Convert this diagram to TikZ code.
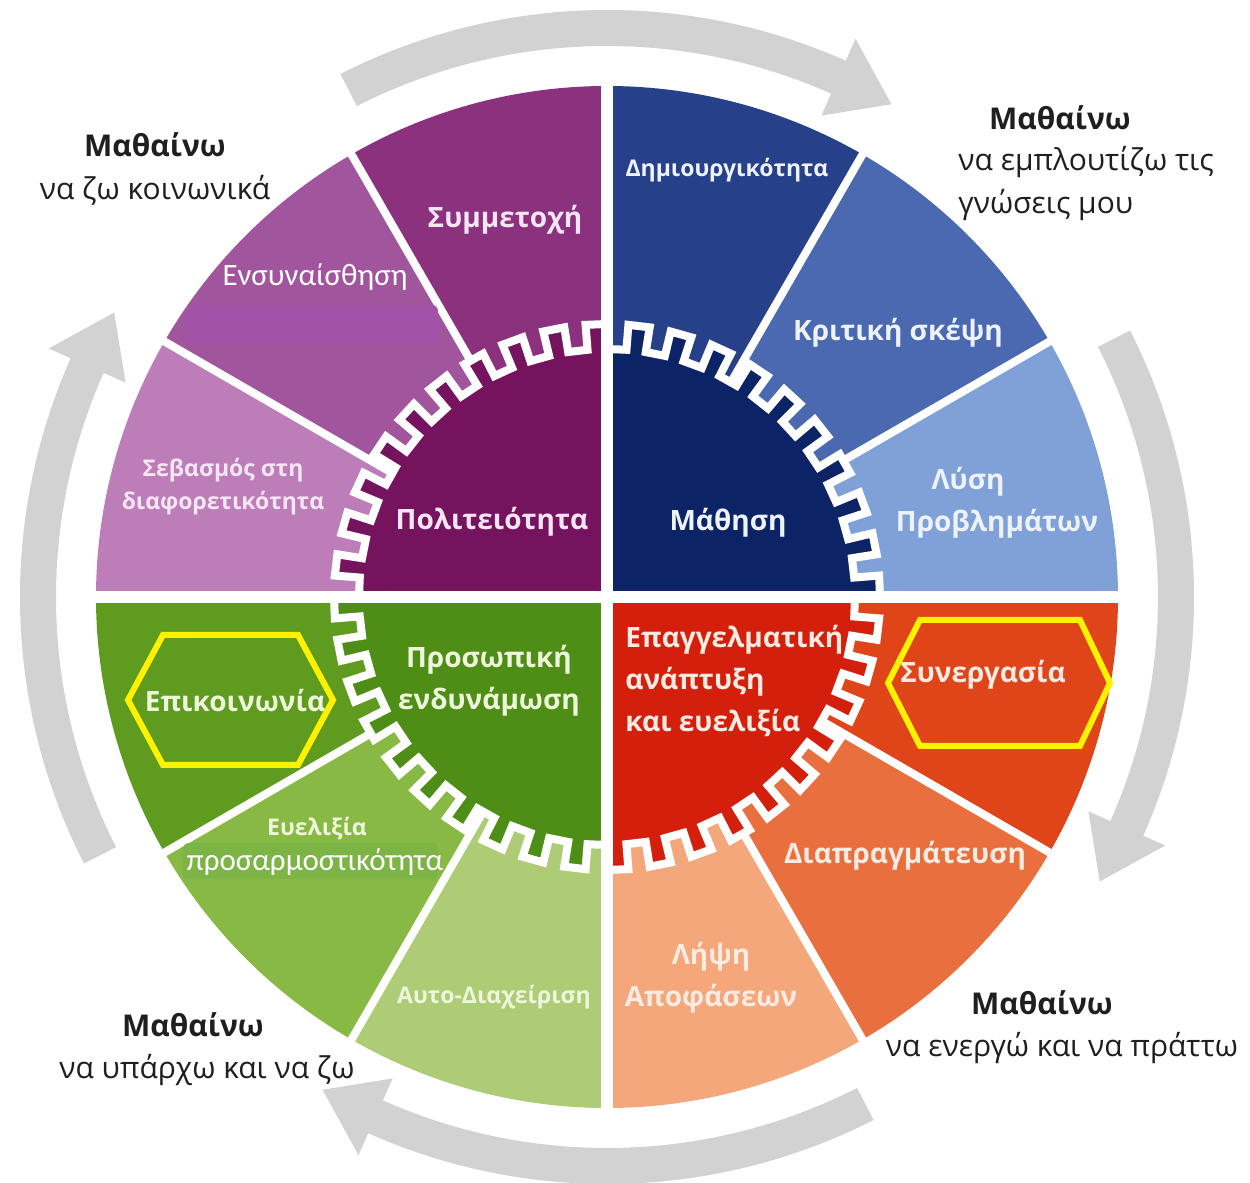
\documentclass[tikz,border=0pt]{standalone}
\usepackage{fontspec}
\setmainfont{Open Sans}
\newfontfamily\calibfont{Carlito}

% colours of the twelve sectors and four gear quarters
\definecolor{symmcol}{HTML}{8C317E}
\definecolor{ensyncol}{HTML}{A0559D}
\definecolor{sevcol}{HTML}{BD7DB9}
\definecolor{politcol}{HTML}{76135E}
\definecolor{dimcol}{HTML}{27408A}
\definecolor{kritcol}{HTML}{4A69B0}
\definecolor{lysicol}{HTML}{7FA1D7}
\definecolor{mathcol}{HTML}{0C2466}
\definecolor{epikcol}{HTML}{5F9B1F}
\definecolor{evelcol}{HTML}{88B944}
\definecolor{autocol}{HTML}{ADCC75}
\definecolor{prosocol}{HTML}{4F8E16}
\definecolor{lipsicol}{HTML}{F3A77A}
\definecolor{diapcol}{HTML}{E9703E}
\definecolor{synergcol}{HTML}{E04419}
\definecolor{epagcol}{HTML}{D31F0C}
\definecolor{arrowgray}{HTML}{D2D2D2}
\definecolor{hexyellow}{HTML}{FFF200}
\definecolor{patchpurple}{HTML}{A352AA}
\definecolor{patchgreen}{HTML}{7DB446}
\definecolor{purpletext}{HTML}{F6E6F4}
\definecolor{bluetext}{HTML}{EEF2FA}
\definecolor{greentext}{HTML}{EEF6DC}
\definecolor{redtext}{HTML}{FCEBE2}

\tikzstyle{seclabel}=[font=\bfseries\fontsize{14}{21}\selectfont,align=center,inner sep=0pt]
\tikzstyle{smalllabel}=[font=\bfseries\fontsize{11.5}{16.5}\selectfont,align=center,inner sep=0pt]
\tikzstyle{outlabel}=[font=\fontsize{15}{21.5}\selectfont,text=black!88,inner sep=0pt]
\tikzstyle{patchlabel}=[font=\calibfont\fontsize{15.5}{17}\selectfont,text=white,inner sep=0pt]
\tikzstyle{hexa}=[draw=hexyellow,line width=3pt,line join=miter]
\tikzstyle{gap} = [draw=white,line width=4pt]

\newcommand{\gearpath}{(0:248) \foreach \g in {0,...,39}{ -- ({\g*9}:248) -- ({\g*9}:273) -- ({\g*9+4.5}:273) -- ({\g*9+4.5}:248)} -- cycle}

\begin{document}
\begin{tikzpicture}[x=0.5pt,y=0.5pt]
    \fill[white] (-607,-586) rectangle (643,597);
    \useasboundingbox (-607,-586) rectangle (643,597);
    % grey arrows round the wheel
    \foreach \t [evaluate=\t as \ta using \t+57, evaluate=\t as \tb using \t+6] in {60,-30,-120,150}
        \fill[arrowgray] (\ta:551) arc[start angle=\ta, end angle=\tb, radius=551] -- (\tb:527) -- (\t:569)
            -- (\tb:611) -- (\tb:587) arc[start angle=\tb, end angle=\ta, radius=587] -- cycle;
    % outer sectors
    \foreach \a/\col in {0/lysicol, 30/kritcol, 60/dimcol, 90/symmcol, 120/ensyncol, 150/sevcol,
                         180/epikcol, 210/evelcol, 240/autocol, 270/lipsicol, 300/diapcol, 330/synergcol}
        \fill[\col] (0,0) -- (\a:511) arc[start angle=\a, delta angle=30, radius=511] -- cycle;
    \foreach \a in {30,60,120,150,210,240,300,330}
        \path[gap] (0,0) -- (\a:516);
    % gear in the middle, one colour per quarter
    \foreach \a/\col in {0/mathcol, 90/politcol, 180/prosocol, 270/epagcol} {
        \begin{scope}
            \clip (0,0) -- (\a:300) arc[start angle=\a, delta angle=90, radius=300] -- cycle;
            \fill[\col] \gearpath;
        \end{scope}
    }
    \draw[white,line width=4pt,line join=miter] \gearpath;
    \draw[white,line width=6pt] (-516,0) -- (516,0);
    \draw[white,line width=6pt] (0,-516) -- (0,516);

    % labels of the sectors
    \node[seclabel,text=purpletext] (symm) at (-102,377) {Συμμετοχή};
    \fill[patchpurple,rounded corners=3pt] (-420,292) rectangle (-169,255);
    \node[patchlabel] (ensyn) at (-292,320) {Ενσυναίσθηση};
    \node[smalllabel,text=purpletext] (sev) at (-384,110) {Σεβασμός στη\\διαφορετικότητα};
    \node[seclabel,text=purpletext] (polit) at (-115,75) {Πολιτειότητα};
    \node[smalllabel,text=bluetext] (dim) at (120,427) {Δημιουργικότητα};
    \node[seclabel,text=bluetext] (krit) at (291,264) {Κριτική σκέψη};
    \node[seclabel,text=bluetext] (lysi) at (361,115) {Λύση};
    \node[seclabel,text=bluetext] (problem) at (390,73) {Προβλημάτων};
    \node[seclabel,text=bluetext] (mathisi) at (121,74) {Μάθηση};
    \node[seclabel,text=greentext] (proso) at (-118,-84) {Προσωπική\\ενδυνάμωση};
    \node[seclabel,text=redtext,align=left,anchor=west] (epag) at (18,-84) {Επαγγελματική\\ανάπτυξη\\και ευελιξία};
    \node[seclabel,text=redtext] (synerg) at (376,-78) {Συνεργασία};
    \node[seclabel,text=greentext] (epik) at (-372,-103) {Επικοινωνία};
    \node[smalllabel,text=greentext] (evel) at (-290,-231) {Ευελιξία};
    \fill[patchgreen,rounded corners=3pt] (-424,-246) rectangle (-169,-282);
    \node[patchlabel] (prosarm) at (-292,-265) {προσαρμοστικότητα};
    \node[seclabel,text=redtext] (diap) at (298,-259) {Διαπραγμάτευση};
    \node[seclabel,text=redtext] (lipsi) at (104,-381) {Λήψη\\Αποφάσεων};
    \node[smalllabel,text=greentext] (auto) at (-113,-400) {Αυτο-Διαχείριση};

    % the four ways of learning
    \node[outlabel,align=center] (socially) at (-452,428) {\textbf{Μαθαίνω}\\να ζω κοινωνικά};
    \node[outlabel,font=\bfseries\fontsize{15}{21.5}\selectfont] (enrichhead) at (453,479) {Μαθαίνω};
    \node[outlabel,align=left,anchor=west] (enrich) at (351,413) {να εμπλουτίζω τις\\γνώσεις μου};
    \node[outlabel,font=\bfseries\fontsize{15}{21.5}\selectfont] (acthead) at (435,-406) {Μαθαίνω};
    \node[outlabel] (act) at (455,-451) {να ενεργώ και να πράττω};
    \node[outlabel,font=\bfseries\fontsize{15}{21.5}\selectfont] (livehead) at (-414,-428) {Μαθαίνω};
    \node[outlabel] (live) at (-400,-473) {να υπάρχω και να ζω};

    % yellow marks
    \draw[hexa] (-479,-103) -- (-444,-38) -- (-309,-38) -- (-274,-103) -- (-309,-168) -- (-444,-168) -- cycle;
    \draw[hexa] (281,-86) -- (313,-23) -- (473,-23) -- (503,-86) -- (473,-149) -- (313,-149) -- cycle;
\end{tikzpicture}
\end{document}
